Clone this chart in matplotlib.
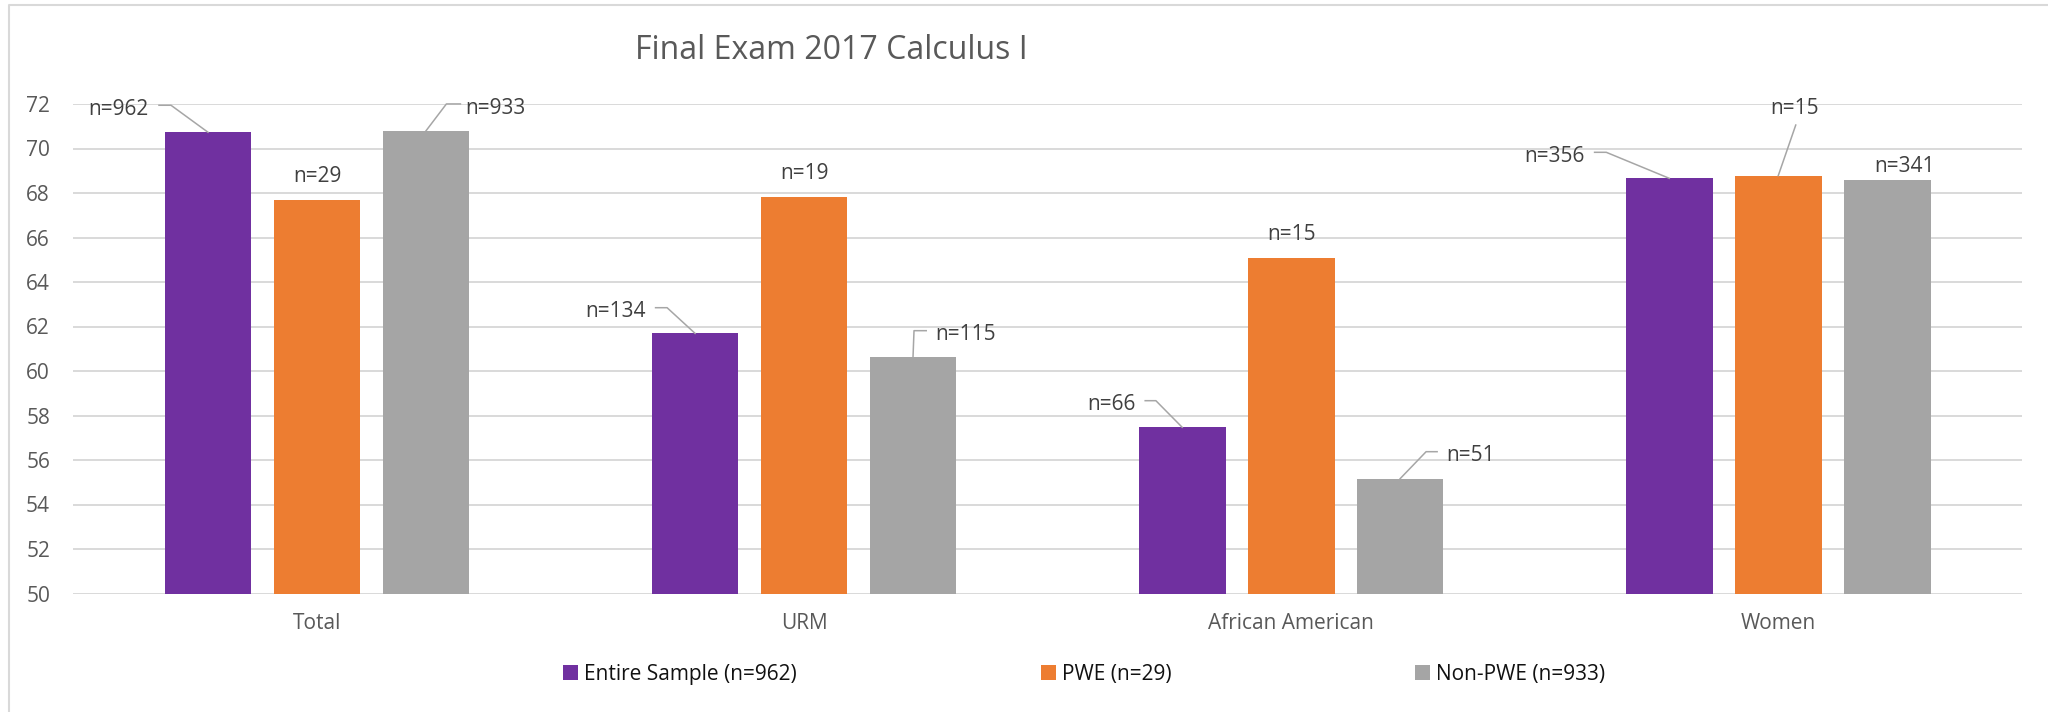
import numpy as np
import matplotlib
matplotlib.use("Agg")
import matplotlib.pyplot as plt
import matplotlib.transforms as mtransforms
from matplotlib.lines import Line2D
from matplotlib.patches import Patch

plt.rcParams['font.family'] = ['Open Sans', 'DejaVu Sans']

# data
categories = ["Total", "URM", "African American", "Women"]
series = ["Entire Sample (n=962)", "PWE (n=29)", "Non-PWE (n=933)"]
entire = [70.73, 61.69, 57.47, 68.66]
pwe = [67.67, 67.81, 65.08, 68.78]
non_pwe = [70.79, 60.63, 55.16, 68.60]
n_entire = ["n=962", "n=134", "n=66", "n=356"]
n_pwe = ["n=29", "n=19", "n=15", "n=15"]
n_non = ["n=933", "n=115", "n=51", "n=341"]

colors = ["#7030A0", "#ED7D31", "#A5A5A5"]
text_gray = "#595959"

# label placement, pixels relative to bar top: (leader points, text x, text centre y, ha)
layout = {
    (0, 0): ([(0, 0), (-37, 27), (-49, 27)], -59, 24.7, "right"),
    (1, 0): (None, 0, 25.5, "center"),
    (2, 0): ([(0, 0), (20.5, 27), (34.5, 27)], 39.5, 23.9, "left"),
    (0, 1): ([(0, 0), (-28, 25.7), (-39.5, 25.7)], -49.5, 24.1, "right"),
    (1, 1): (None, 0, 25.5, "center"),
    (2, 1): ([(0, 0), (1, 26.3), (13.2, 26.3)], 22.5, 24.6, "left"),
    (0, 2): ([(0, 0), (-26.3, 26.6), (-37, 26.6)], -47, 24.6, "right"),
    (1, 2): (None, 0, 25.7, "center"),
    (2, 2): ([(0, 0), (26, 27), (37, 27)], 46, 25.4, "left"),
    (0, 3): ([(0, 0), (-63, 26), (-74.7, 26)], -84.7, 23.3, "right"),
    (1, 3): ([(0, 0), (17.5, 50.6)], 16.8, 68.9, "center"),
    (2, 3): (None, 17.7, 14.7, "center"),
}

W, H = 2048, 712
fig = plt.figure(figsize=(W / 100, H / 100), dpi=100)
ax = fig.add_axes([73.4 / W, 1 - 593.5 / H, (2021.8 - 73.4) / W, (593.5 - 104) / H])

x = np.arange(len(categories))
pitch = 0.2237
width = 0.178
values = [entire, pwe, non_pwe]
nlabels = [n_entire, n_pwe, n_non]

for i, (vals, col) in enumerate(zip(values, colors)):
    bars = ax.bar(x + (i - 1) * pitch, vals, width, color=col, zorder=2)
    for j, b in enumerate(bars):
        cx = b.get_x() + b.get_width() / 2
        top = b.get_height()
        tr = mtransforms.ScaledTranslation(cx, top, ax.transData)
        pts, tx, ty, ha = layout[(i, j)]
        if pts:
            xs, ys = zip(*pts)
            ax.add_line(Line2D(xs, ys, transform=tr, color="#A6A6A6",
                               lw=1.1, clip_on=False, zorder=3))
        ax.text(tx, ty - 7.4, nlabels[i][j], transform=tr, ha=ha,
                va="baseline", fontsize=15, color="#404040")

ax.set_xlim(-0.5, 3.5)
ax.set_ylim(50, 72)
ax.set_yticks(range(50, 73, 2))
ax.set_xticks(x)
ax.set_xticklabels(categories)
ax.tick_params(axis="y", length=0, labelsize=15, labelcolor=text_gray, pad=16.8)
ax.tick_params(axis="x", length=0, labelsize=15, labelcolor=text_gray, pad=14)
ax.yaxis.grid(True, color="#D9D9D9", lw=1.4, zorder=0)
ax.set_axisbelow(True)
for s in ax.spines.values():
    s.set_visible(False)

fig.text(831.6 / W, 1 - 59 / H, "Final Exam 2017 Calculus I", ha="center",
         va="baseline", fontsize=23, color=text_gray)

handles = [Patch(facecolor=c) for c in colors]
fig.legend(handles, series, loc="center", bbox_to_anchor=(1084.5 / W, 1 - 674.7 / H),
           ncol=3, frameon=False, fontsize=15, handlelength=0.72, handleheight=0.72,
           handletextpad=0.29, columnspacing=11.7, labelcolor="#111111", borderpad=0)

# outer chart border (left and top visible)
fig.add_artist(Line2D([9 / W, 9 / W, 1], [0, 1 - 5 / H, 1 - 5 / H],
                      color="#D9D9D9", lw=1.5))

fig.savefig("out.png", dpi=100)
